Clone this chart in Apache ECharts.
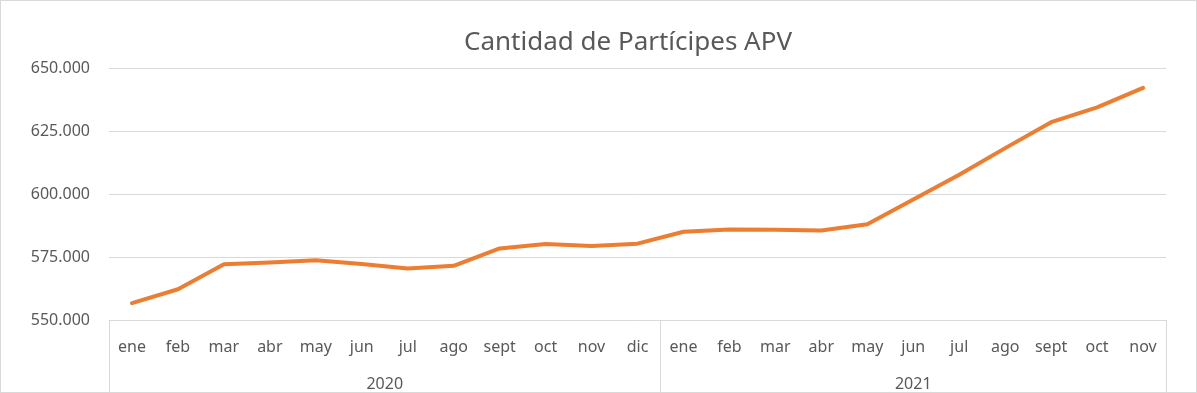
<!DOCTYPE html>
<html>
<head>
<meta charset="utf-8">
<script src="https://cdn.jsdelivr.net/npm/echarts@6/dist/echarts.min.js"></script>
<style>
html,body{margin:0;padding:0;background:#fff;}
#c{width:1197px;height:393px;box-sizing:border-box;border:1px solid #d9d9d9;}
</style>
</head>
<body>
<div id="c"></div>
<script>
// ---- data ----
const titleText = 'Cantidad de Partícipes APV';
const months2020 = ['ene','feb','mar','abr','may','jun','jul','ago','sept','oct','nov','dic'];
const months2021 = ['ene','feb','mar','abr','may','jun','jul','ago','sept','oct','nov'];
const years = ['2020','2021'];
const values2020 = [556700, 562200, 572100, 572800, 573700, 572200, 570400, 571500, 578400, 580200, 579400, 580300];
const values2021 = [585000, 585900, 585800, 585500, 588000, 597800, 607600, 618200, 628500, 634400, 642100];
const yMin = 550000, yMax = 650000, yStep = 25000;

// ---- build ----
const categories = months2020.concat(months2021);
const values = values2020.concat(values2021);
const groupSizes = [months2020.length, months2021.length];
const boundaries = [0];
const centers = [];
let acc = 0;
groupSizes.forEach(n => { centers.push(acc + n / 2); acc += n; boundaries.push(acc); });
const total = acc;

const font = "'Noto Sans', 'Open Sans', sans-serif";
const grey = '#595959';
const lineGrey = '#d9d9d9';

function fmt(v){ return String(Math.round(v)).replace(/\B(?=(\d{3})+(?!\d))/g, '.'); }

const chart = echarts.init(document.getElementById('c'), null, {renderer:'canvas'});
chart.setOption({
  animation:false,
  textStyle:{fontFamily:font},
  title:{
    text:titleText, left:458, top:24,
    textStyle:{fontFamily:font, fontSize:26, fontWeight:'normal', color:grey}
  },
  grid:{left:108, right:30, top:67, bottom:71, containLabel:false},
  xAxis:[
    {
      type:'category', data:categories, boundaryGap:true,
      axisLine:{show:true, lineStyle:{color:lineGrey, width:1}},
      axisTick:{show:false},
      axisLabel:{color:grey, fontSize:16, fontFamily:font, margin:19, interval:0}
    },
    {
      type:'value', min:0, max:total, position:'bottom',
      axisLine:{show:false},
      splitLine:{show:false},
      axisTick:{show:true, customValues:boundaries, length:72, lineStyle:{color:lineGrey, width:1}},
      axisLabel:{
        show:true, customValues:centers, color:grey, fontSize:16, fontFamily:font, margin:56,
        formatter:function(v){ const i = centers.indexOf(v); return i >= 0 ? years[i] : ''; }
      }
    }
  ],
  yAxis:{
    type:'value', min:yMin, max:yMax, interval:yStep,
    axisLine:{show:false}, axisTick:{show:false},
    axisLabel:{color:grey, fontSize:16, fontFamily:font, margin:19, formatter:fmt},
    splitLine:{lineStyle:{color:lineGrey, width:1}}
  },
  series:[{
    type:'line', data:values, xAxisIndex:0, showSymbol:false, symbol:'none',
    lineStyle:{color:'#ED7D31', width:4, cap:'round', join:'round'},
    itemStyle:{color:'#ED7D31'}
  }]
});
</script>
</body>
</html>
